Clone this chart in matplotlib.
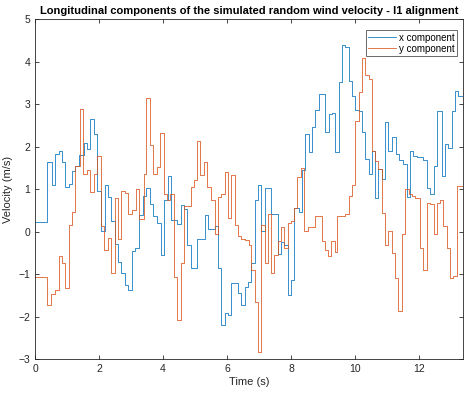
import matplotlib
matplotlib.use("Agg")
import matplotlib.pyplot as plt

plt.rcParams["font.family"] = ["Liberation Sans", "DejaVu Sans"]

T_END = 13.38

# x component: step start times (s) and velocity (m/s)
t_x = [0.00, 0.37, 0.53, 0.64, 0.74, 0.84, 0.95, 1.05, 1.16, 1.26, 1.38, 1.52, 1.63, 1.73,
       1.83, 1.94, 2.05, 2.18, 2.28, 2.38, 2.51, 2.59, 2.70, 2.81, 2.91, 3.02, 3.13, 3.26,
       3.36, 3.47, 3.59, 3.69, 3.81, 3.93, 4.03, 4.14, 4.24, 4.45, 4.55, 4.66, 4.76, 4.87,
       5.07, 5.30, 5.41, 5.61, 5.72, 5.82, 5.92, 6.03, 6.13, 6.34, 6.45, 6.55, 6.65, 6.76,
       6.86, 6.96, 7.07, 7.19, 7.38, 7.48, 7.58, 7.69, 7.79, 7.90, 8.00, 8.10, 8.24, 8.34,
       8.45, 8.55, 8.65, 8.76, 8.86, 9.07, 9.17, 9.28, 9.38, 9.49, 9.59, 9.69, 9.80, 9.90,
       10.00, 10.11, 10.21, 10.32, 10.42, 10.52, 10.63, 10.73, 10.84, 10.94, 11.04, 11.15,
       11.27, 11.38, 11.49, 11.61, 11.72, 11.82, 11.93, 12.13, 12.24, 12.34, 12.45, 12.55,
       12.71, 12.81, 12.91, 13.02, 13.12, 13.22]
v_x = [0.22, 1.65, 1.10, 1.84, 1.91, 1.65, 1.06, 1.12, 1.44, 1.55, 1.82, 2.08, 1.94, 2.65,
       2.30, 0.97, 0.02, 1.10, 0.83, 0.25, -0.28, -0.72, -0.97, -1.26, -1.37, -0.44, -0.38, 0.39,
       0.85, 1.02, 0.66, 0.37, 0.21, -0.54, 0.76, 1.32, 0.28, 0.19, 0.63, 0.53, -0.31, -0.85,
       -0.16, 0.39, 0.07, 0.13, -0.85, -2.19, -1.90, -1.95, -1.20, -1.44, -1.72, -1.30, -1.17, -0.73,
       0.75, 1.10, 0.02, 1.02, 0.43, 0.41, -0.51, -0.24, -0.31, -1.48, -1.13, 0.57, 0.46, 1.46,
       2.30, 1.87, 2.46, 2.87, 3.24, 2.36, 2.77, 2.80, 1.89, 3.52, 4.39, 4.35, 3.56, 3.20,
       2.87, 2.85, 2.34, 1.71, 1.35, 1.91, 0.80, 1.47, 1.25, 2.59, 1.91, 2.24,
       1.83, 1.69, 1.59, 0.82, 1.91, 1.79, 1.77, 1.69, 1.02, 0.90, 1.55, 2.85,
       1.31, 2.06, 1.98, 2.85, 3.32, 3.20]

# y component
t_y = [0.00, 0.37, 0.50, 0.64, 0.75, 0.84, 0.95, 1.05, 1.16, 1.26, 1.39, 1.51, 1.62, 1.73,
       1.83, 1.94, 2.05, 2.16, 2.27, 2.36, 2.51, 2.60, 2.70, 2.81, 2.92, 3.03, 3.14, 3.26,
       3.39, 3.47, 3.59, 3.69, 3.81, 3.90, 4.02, 4.12, 4.23, 4.33, 4.45, 4.55, 4.66, 4.87,
       4.97, 5.07, 5.17, 5.28, 5.38, 5.49, 5.61, 5.72, 5.82, 5.92, 6.03, 6.13, 6.24, 6.34,
       6.45, 6.55, 6.69, 6.76, 6.86, 6.96, 7.07, 7.19, 7.27, 7.38, 7.48, 7.58, 7.69, 7.79,
       7.90, 8.00, 8.10, 8.20, 8.31, 8.41, 8.52, 8.62, 8.74, 8.97, 9.05, 9.15, 9.26, 9.36,
       9.43, 9.69, 9.80, 9.90, 10.00, 10.11, 10.21, 10.32, 10.42, 10.52, 10.63, 10.73, 10.84,
       10.94, 11.04, 11.15, 11.25, 11.35, 11.46, 11.56, 11.67, 11.77, 11.87, 12.03, 12.13,
       12.24, 12.34, 12.45, 12.55, 12.65, 12.76, 12.86, 12.96, 13.07, 13.17]
v_y = [-1.07, -1.72, -1.46, -1.36, -0.57, -0.73, -1.32, 0.17, 0.46, 1.55, 2.90, 1.35, 1.45, 0.94,
       1.35, 1.79, 0.13, -0.43, -0.14, -0.98, 0.80, -0.16, 0.96, 0.91, 0.41, 0.51, 1.00, 0.31,
       1.37, 3.14, 2.04, 1.37, 1.53, 2.32, 0.88, 0.76, 0.88, -1.07, -2.07, -0.73, 0.61, 1.06,
       1.22, 2.14, 1.33, 1.65, 1.06, 0.76, -0.06, 0.82, 0.88, 1.41, 0.33, 1.33, 0.16, -0.10,
       -0.16, -0.20, -0.30, -0.90, -1.65, -2.83, 0.17, -0.73, 0.43, -0.97, -0.54, -0.22, 0.11, -0.38,
       0.20, 0.25, 0.57, 1.28, 1.50, 0.02, 0.11, 0.12, 0.37, -0.22, -0.42, -0.57, -0.22, -0.47,
       0.37, 0.43, 0.84, 1.10, 2.61, 3.28, 4.09, 3.68, 3.60, 1.91, 1.67, 1.47, 0.45,
       -0.30, 0.02, -0.50, -1.09, -1.87, -0.06, 1.00, 0.88, 0.84, 0.80, -0.38, -0.89,
       0.69, 0.66, -0.06, 0.69, 0.76, 0.13, -0.38, -1.09, -1.05, 1.08]

fig = plt.figure(figsize=(4.65, 3.93), dpi=100)
ax = fig.add_axes([0.0753, 0.0857, 0.921, 0.865])

ax.step(t_x + [T_END], v_x + [v_x[-1]], where="post", color="#0072BD", lw=0.55,
        label="x component")
ax.step(t_y + [T_END], v_y + [v_y[-1]], where="post", color="#D95319", lw=0.55,
        label="y component")

ax.set_xlim(0, T_END)
ax.set_ylim(-3, 5)
ax.set_xticks(range(0, 13, 2))
ax.set_yticks(range(-3, 6))
ax.tick_params(direction="in", top=True, right=True, labelsize=7.5, colors="#262626",
               length=3, width=0.6)
for s in ax.spines.values():
    s.set_color("#262626")
    s.set_linewidth(0.6)

ax.set_xlabel("Time (s)", fontsize=8, color="#262626", labelpad=2)
ax.set_ylabel("Velocity (m/s)", fontsize=8, color="#262626", labelpad=4)
ax.set_title("Longitudinal components of the simulated random wind velocity - I1 alignment",
             fontsize=8, fontweight="bold", pad=4)

leg = ax.legend(loc="upper right", fontsize=7, frameon=True, fancybox=False,
                edgecolor="#262626", handlelength=2.9, borderpad=0.25, labelspacing=0.1,
                handletextpad=0.3, borderaxespad=0, bbox_to_anchor=(0.986, 0.968))
leg.get_frame().set_linewidth(0.6)

fig.savefig("out.png", dpi=100)
